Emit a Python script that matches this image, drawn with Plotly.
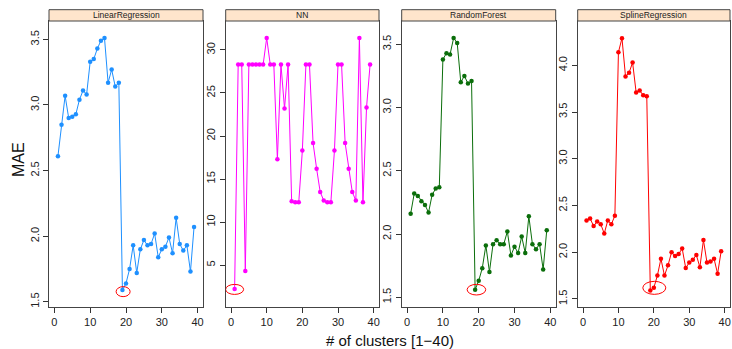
import numpy as np
import plotly.graph_objects as go

clusters = list(range(1, 40))

models = ["LinearRegression", "NN", "RandomForest", "SplineRegression"]

mae_linear = [2.61, 2.85, 3.07, 2.90, 2.91, 2.93, 3.04, 3.11, 3.08, 3.33,
              3.35, 3.43, 3.49, 3.51, 3.17, 3.27, 3.14, 3.17, 1.59, 1.64,
              1.75, 1.93, 1.72, 1.90, 1.97, 1.93, 1.94, 2.02, 1.84, 1.90,
              1.92, 1.99, 1.87, 2.14, 1.94, 1.89, 1.93, 1.73, 2.07]

mae_nn = [2.2, 28.3, 28.3, 4.3, 28.3, 28.3, 28.3, 28.3, 28.3, 31.4,
          28.3, 28.3, 17.3, 28.3, 23.2, 28.3, 12.4, 12.3, 12.3, 18.3,
          28.3, 28.3, 19.2, 16.2, 13.5, 12.5, 12.3, 12.3, 18.3, 28.3,
          28.3, 19.2, 16.2, 13.5, 12.5, 31.4, 12.3, 23.3, 28.3]

mae_rf = [2.16, 2.32, 2.30, 2.26, 2.23, 2.17, 2.31, 2.36, 2.37, 3.38,
          3.43, 3.42, 3.55, 3.51, 3.20, 3.25, 3.19, 3.21, 1.56, 1.63,
          1.73, 1.91, 1.70, 1.92, 1.95, 1.92, 1.92, 2.02, 1.83, 1.90,
          1.85, 1.98, 1.85, 2.14, 1.92, 1.88, 1.92, 1.72, 2.03]

mae_spline = [2.34, 2.36, 2.28, 2.33, 2.30, 2.20, 2.34, 2.30, 2.39, 4.14,
              4.29, 3.88, 3.92, 4.03, 3.71, 3.73, 3.68, 3.67, 1.59, 1.62,
              1.75, 1.93, 1.75, 1.86, 2.00, 1.96, 1.98, 2.04, 1.83, 1.89,
              1.92, 1.97, 1.84, 2.13, 1.89, 1.90, 1.93, 1.77, 2.01]

series = [mae_linear, mae_nn, mae_rf, mae_spline]

x_ticks = [0, 10, 20, 30, 40]
y_ticks = [[1.5, 2.0, 2.5, 3.0, 3.5],
           [5, 10, 15, 20, 25, 30],
           [1.5, 2.0, 2.5, 3.0, 3.5],
           [1.5, 2.0, 2.5, 3.0, 3.5, 4.0]]
y_fmt = [".1f", "d", ".1f", ".1f"]

# ---- styling / layout ----
W, H = 732, 349
colors = ["#1E90FF", "#FF00FF", "#0B6E0B", "#FF0000"]
panel_px = [(49, 203), (225.7, 379), (401.7, 555.7), (577.7, 730)]
plot_top, plot_bot = 21, 307
strip_top = 9.7
y_ranges = [[1.46, 3.64], [0.12, 33.37], [1.423, 3.684], [1.414, 4.474]]
x_range = [-1.5, 41.5]
# ellipse: (dx, dy, half-width, half-height) in pixels relative to minimum point
ellipses = [(0.7, -1.7, 7, 5), (0, -0.3, 9, 5), (1.3, 0, 9.3, 5.3), (4, 2.7, 11.5, 6.5)]

fig = go.Figure()
shapes = []
annotations = []
ydom = [1 - plot_bot / H, 1 - plot_top / H]

for i, (name, vals, col) in enumerate(zip(models, series, colors)):
    n = i + 1
    xa = "x" if n == 1 else f"x{n}"
    ya = "y" if n == 1 else f"y{n}"
    fig.add_trace(go.Scatter(
        x=clusters, y=vals, mode="lines+markers",
        line=dict(color=col, width=1),
        marker=dict(color=col, size=4.5),
        xaxis=xa, yaxis=ya, showlegend=False, hoverinfo="skip"))
    x0p, x1p = panel_px[i]
    dom = [x0p / W, x1p / W]
    axis_common = dict(showline=True, linecolor="#444", linewidth=1, mirror=True,
                       ticks="outside", ticklen=5, tickwidth=1, tickcolor="#333",
                       showgrid=False, zeroline=False,
                       tickfont=dict(family="Liberation Sans, Arial", size=11, color="#222"))
    fig.update_layout(**{
        ("xaxis" if n == 1 else f"xaxis{n}"): dict(
            domain=dom, range=x_range, anchor=ya, tickvals=x_ticks, **axis_common),
        ("yaxis" if n == 1 else f"yaxis{n}"): dict(
            domain=ydom, range=y_ranges[i], anchor=xa, tickvals=y_ticks[i],
            tickformat=y_fmt[i], tickangle=-90, **axis_common),
    })
    # strip
    shapes.append(dict(type="rect", xref="paper", yref="paper",
                       x0=dom[0], x1=dom[1], y0=ydom[1], y1=1 - strip_top / H,
                       fillcolor="#FFE5CC", line=dict(color="#444", width=1), layer="above"))
    annotations.append(dict(text=name, xref="paper", yref="paper",
                            x=(dom[0] + dom[1]) / 2, y=(ydom[1] + 1 - strip_top / H) / 2,
                            showarrow=False, xanchor="center", yanchor="middle",
                            font=dict(family="Liberation Sans, Arial", size=8.5, color="#222")))
    # ellipse around minimum
    k = int(np.argmin(vals))
    dx, dy, hw, hh = ellipses[i]
    shapes.append(dict(type="circle", xref=xa, yref=ya,
                       xsizemode="pixel", ysizemode="pixel",
                       xanchor=clusters[k], yanchor=vals[k],
                       x0=dx - hw, x1=dx + hw, y0=dy - hh, y1=dy + hh,
                       line=dict(color="#FF0000", width=1)))

annotations.append(dict(text="MAE", xref="paper", yref="paper", x=18 / W, y=1 - 160 / H,
                        textangle=-90, showarrow=False, xanchor="center", yanchor="middle",
                        font=dict(family="Liberation Sans, Arial", size=16, color="#111")))
annotations.append(dict(text="# of clusters [1\u221240)", xref="paper", yref="paper",
                        x=390 / W, y=1 - 340 / H, showarrow=False,
                        xanchor="center", yanchor="middle",
                        font=dict(family="Liberation Sans, Arial", size=15, color="#111")))

fig.update_layout(width=W, height=H, autosize=False,
                  margin=dict(l=0, r=0, t=0, b=0),
                  paper_bgcolor="white", plot_bgcolor="white",
                  shapes=shapes, annotations=annotations)

fig.write_html("out.html")
